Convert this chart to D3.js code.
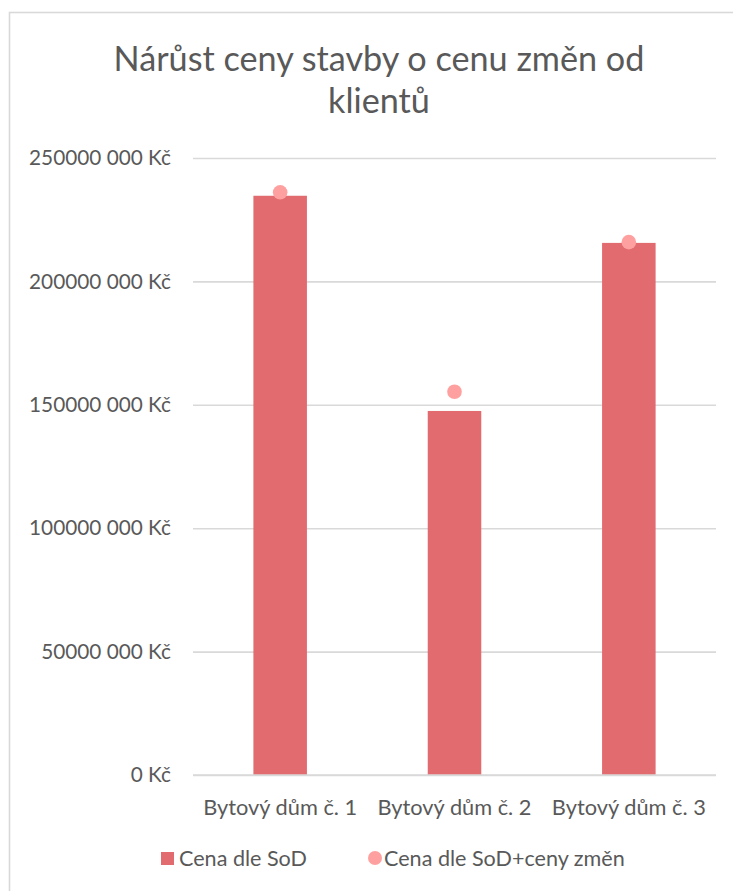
<!DOCTYPE html>
<html>
<head>
<meta charset="utf-8">
<script src="https://cdn.jsdelivr.net/npm/d3@7"></script>
<style>
  html, body { margin: 0; padding: 0; background: #ffffff; }
  svg { display: block; }
  text { font-family: Lato, "Open Sans", sans-serif; fill: #595959; }
</style>
</head>
<body>
<svg id="chart" width="733" height="891"></svg>
<script>
// ---- data ----
const titleLines = ["Nárůst ceny stavby o cenu změn od", "klientů"];
const categories = ["Bytový dům č. 1", "Bytový dům č. 2", "Bytový dům č. 3"];
const seriesNames = ["Cena dle SoD", "Cena dle SoD+ceny změn"];
const cenaSoD = [234700000, 147500000, 215600000];
const cenaSoDZmeny = [236100000, 155300000, 215900000];
const yTicks = [0, 50000000, 100000000, 150000000, 200000000, 250000000];
const yTickLabels = ["0 Kč", "50000 000 Kč", "100000 000 Kč", "150000 000 Kč", "200000 000 Kč", "250000 000 Kč"];

// ---- layout ----
const W = 733, H = 891;
const plot = { left: 193, right: 716, top: 158, bottom: 775 };
const barColor = "#E16B6E";
const dotColor = "#FFA0A0";
const gridColor = "#D9D9D9";

const svg = d3.select("#chart");

// chart border
svg.append("rect")
  .attr("x", 9.5).attr("y", 12.5)
  .attr("width", 760).attr("height", 900)
  .attr("fill", "#fff").attr("stroke", gridColor).attr("stroke-width", 1.6);

function fit(sel, target) {
  const w = sel.node().getComputedTextLength();
  const fs = parseFloat(sel.attr("font-size"));
  sel.attr("font-size", fs * target / w);
}

// title
const t1 = svg.append("text").attr("x", 379).attr("y", 71)
  .attr("text-anchor", "middle").attr("font-size", 28).text(titleLines[0]);
fit(t1, 531);
const t2 = svg.append("text").attr("x", 379).attr("y", 113)
  .attr("text-anchor", "middle").attr("font-size", t1.attr("font-size")).text(titleLines[1]);

// scales
const x = d3.scaleBand().domain(categories).range([plot.left, plot.right]).padding(0);
const y = d3.scaleLinear().domain([0, 250000000]).range([plot.bottom, plot.top]);
const barW = x.bandwidth() * 0.307;

// y axis (gridlines + labels)
const yAxis = d3.axisLeft(y)
  .tickValues(yTicks)
  .tickSize(-(plot.right - plot.left))
  .tickPadding(22)
  .tickFormat((d, i) => yTickLabels[i]);
const gy = svg.append("g").attr("transform", `translate(${plot.left},0)`).call(yAxis);
gy.select(".domain").remove();
gy.selectAll(".tick line").attr("stroke", gridColor).attr("stroke-width", 1.6);
gy.selectAll(".tick text")
  .attr("font-size", 20).attr("fill", "#595959")
  .attr("font-family", "Lato, 'Open Sans', sans-serif");
// fit y labels width to reference
const ref = gy.selectAll(".tick text").filter((d) => d === 250000000);
const refW = ref.node().getComputedTextLength();
const yFs = 20 * 142 / refW;
gy.selectAll(".tick text").attr("font-size", yFs);

// x axis
const xAxis = d3.axisBottom(x).tickSize(0).tickPadding(25);
const gx = svg.append("g").attr("transform", `translate(0,${plot.bottom})`).call(xAxis);
gx.select(".domain").remove();
gx.selectAll(".tick text").attr("font-size", 20).attr("fill", "#595959")
  .attr("font-family", "Lato, 'Open Sans', sans-serif");
const xw = gx.select(".tick text").node().getComputedTextLength();
gx.selectAll(".tick text").attr("font-size", 20 * 154 / xw);

// bars
svg.append("g").selectAll("rect").data(categories).join("rect")
  .attr("x", (d) => x(d) + x.bandwidth() / 2 - barW / 2)
  .attr("y", (d, i) => y(cenaSoD[i]))
  .attr("width", barW)
  .attr("height", (d, i) => y(0) - y(cenaSoD[i]))
  .attr("fill", barColor);

// re-draw baseline gridline on top of bars
svg.append("line")
  .attr("x1", plot.left).attr("x2", plot.right)
  .attr("y1", y(0)).attr("y2", y(0))
  .attr("stroke", gridColor).attr("stroke-width", 1.6);

// dots
svg.append("g").selectAll("circle").data(categories).join("circle")
  .attr("cx", (d) => x(d) + x.bandwidth() / 2)
  .attr("cy", (d, i) => y(cenaSoDZmeny[i]))
  .attr("r", 7.3)
  .attr("fill", dotColor);

// legend
const lg = svg.append("g");
const ly = 858;
lg.append("rect").attr("x", 161).attr("y", ly - 6).attr("width", 13).attr("height", 13).attr("fill", barColor);
const l1 = lg.append("text").attr("x", 179).attr("y", ly).attr("dy", "0.35em")
  .attr("font-size", 20).text(seriesNames[0]);
fit(l1, 128);
lg.append("circle").attr("cx", 375).attr("cy", ly).attr("r", 7).attr("fill", dotColor);
const l2 = lg.append("text").attr("x", 384).attr("y", ly).attr("dy", "0.35em")
  .attr("font-size", l1.attr("font-size")).text(seriesNames[1]);
</script>
</body>
</html>
